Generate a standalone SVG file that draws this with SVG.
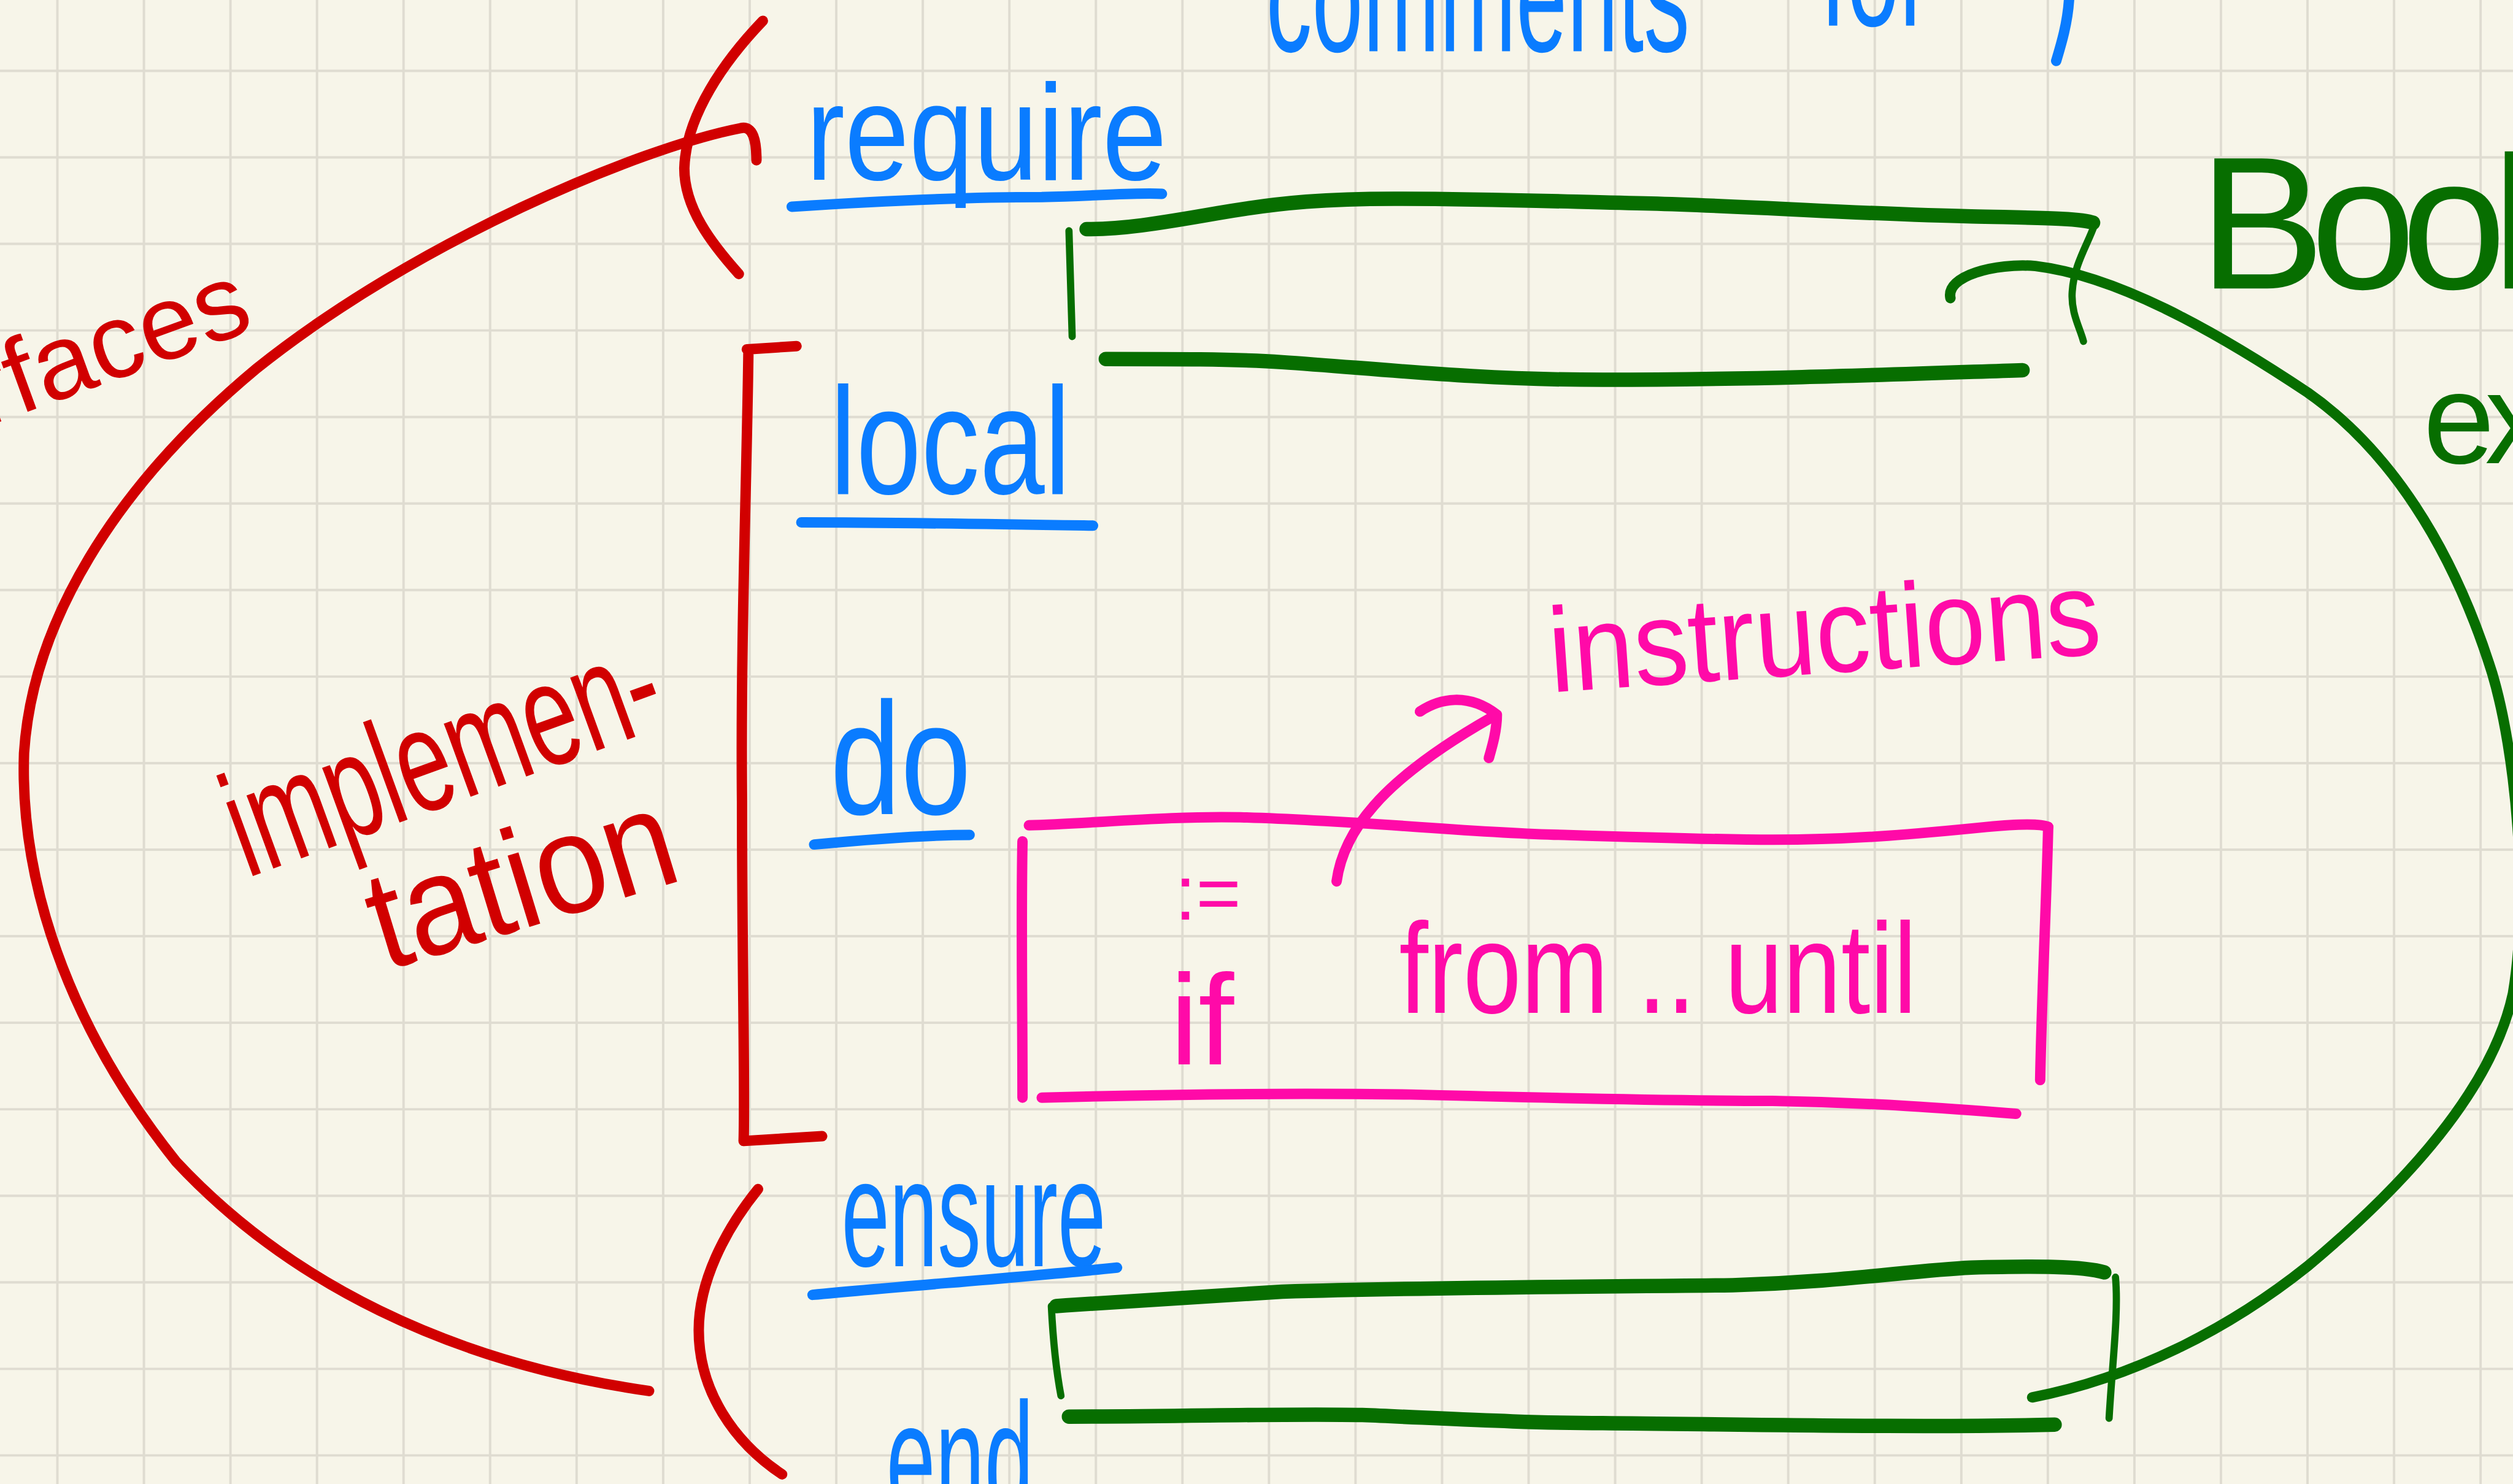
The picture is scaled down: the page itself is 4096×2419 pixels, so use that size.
<svg xmlns="http://www.w3.org/2000/svg" width="4096" height="2419" viewBox="0 0 4096 2419">
  <style>
    .paper { fill: #f7f5e9; }
    .grid { fill: none; stroke: #dfdcd1; stroke-width: 1.5; }
    .pen { fill: none; stroke-linecap: round; stroke-linejoin: round; }
    .red { stroke: #d10000; }
    .blue { stroke: #0a7cff; }
    .green { stroke: #076e00; }
    .pink { stroke: #ff0aa8; }
    .thin { stroke-width: 4.5; }
    .mid { stroke-width: 6.5; }
    .thick { stroke-width: 9; }
    .hand { font-family: "Liberation Sans", Arial, sans-serif; }
    .t-red { fill: #d10000; }
    .t-blue { fill: #0a7cff; }
    .t-green { fill: #076e00; }
    .t-pink { fill: #ff0aa8; }
  </style>

  <rect class="paper" x="0" y="0" width="4096" height="2419"/>

  <!-- everything below is laid out on a 1568 x 926 sheet and scaled up -->
  <g transform="scale(2.6122)">

    <!-- squared notebook paper -->
    <path class="grid" d="M35.8 0V926M89.8 0V926M143.8 0V926M197.8 0V926M251.8 0V926M305.8 0V926M359.8 0V926M413.8 0V926M467.8 0V926M521.8 0V926M575.8 0V926M629.8 0V926M683.8 0V926M737.8 0V926M791.8 0V926M845.8 0V926M899.8 0V926M953.8 0V926M1007.8 0V926M1061.8 0V926M1115.8 0V926M1169.8 0V926M1223.8 0V926M1277.8 0V926M1331.8 0V926M1385.8 0V926M1439.8 0V926M1493.8 0V926M1547.8 0V926
      M0 44.2H1568M0 98.2H1568M0 152.2H1568M0 206.2H1568M0 260.2H1568M0 314.2H1568M0 368.2H1568M0 422.2H1568M0 476.2H1568M0 530.2H1568M0 584.2H1568M0 638.2H1568M0 692.2H1568M0 746.2H1568M0 800.2H1568M0 854.2H1568M0 908.2H1568"/>

    <!-- heading, cut by the top edge; tall narrow handwriting -->
    <g id="heading">
      <text class="hand t-blue" font-size="100" transform="translate(790,32) scale(0.573,1)">comments</text>
      <text class="hand t-blue" font-size="100" transform="translate(1136,16) scale(0.59,1)">for</text>
      <path class="pen blue mid" d="M1291,0 C1290,15 1286,28 1283,38"/>
    </g>

    <!-- routine keywords -->
    <g id="kw-require">
      <text class="hand t-blue" x="503" y="112" font-size="85" textLength="225" lengthAdjust="spacingAndGlyphs">require</text>
      <path class="pen blue mid" d="M494,129 C540,126 600,123 650,123 C690,122 712,120 725,121"/>
    </g>
    <g id="kw-local">
      <text class="hand t-blue" x="518" y="308" font-size="95" textLength="150" lengthAdjust="spacingAndGlyphs">local</text>
      <path class="pen blue mid" d="M500,326 C560,326 620,327 682,328"/>
    </g>
    <g id="kw-do">
      <text class="hand t-blue" x="518" y="508" font-size="100" textLength="88" lengthAdjust="spacingAndGlyphs">do</text>
      <path class="pen blue mid" d="M508,527 C540,524 575,521 605,521"/>
    </g>
    <g id="kw-ensure">
      <text class="hand t-blue" x="525" y="790" font-size="95" textLength="165" lengthAdjust="spacingAndGlyphs">ensure</text>
      <path class="pen blue mid" d="M507,808 C570,802 640,797 697,791"/>
    </g>
    <g id="kw-end">
      <text class="hand t-blue" x="553" y="945" font-size="100" textLength="92" lengthAdjust="spacingAndGlyphs">end</text>
    </g>

    <!-- red side labels -->
    <g id="label-interfaces">
      <text class="hand t-red" x="160" y="205" font-size="66" text-anchor="end" transform="rotate(-20 160 205)">interfaces</text>
    </g>
    <g id="label-implementation">
      <text class="hand t-red" x="154" y="548" font-size="92" textLength="282" lengthAdjust="spacingAndGlyphs" transform="rotate(-20 154 548)">implemen-</text>
      <text class="hand t-red" x="240" y="606" font-size="88" textLength="196" lengthAdjust="spacingAndGlyphs" transform="rotate(-17 240 606)">tation</text>
    </g>

    <!-- precondition slot -->
    <g id="box-require">
      <path class="pen green thick" d="M678,143 C700,143 720,140 760,133 C800,126 830,124 870,124 C930,124 980,126 1030,127 C1100,129 1170,134 1230,135 C1270,136 1298,136 1306,139"/>
      <path class="pen green thin" d="M667,144 L669,210"/>
      <path class="pen green thin" d="M1307,140 C1303,152 1294,165 1293,182 C1292,195 1298,205 1300,213"/>
      <path class="pen green thick" d="M690,224 C730,224 770,224 800,226 C860,230 920,237 1000,237 C1100,237 1200,233 1262,231"/>
    </g>

    <!-- postcondition slot -->
    <g id="box-ensure">
      <path class="pen green thick" d="M659,815 C700,812 740,810 800,806 C900,803 1000,803 1081,802 C1150,800 1190,793 1230,791 C1270,790 1300,790 1313,794"/>
      <path class="pen green thin" d="M656,815 C657,835 659,855 662,871"/>
      <path class="pen green thin" d="M1320,797 C1322,820 1318,850 1316,885"/>
      <path class="pen green thick" d="M667,884 C740,884 800,882 850,883 C900,885 950,888 1000,888 C1100,889 1200,891 1282,889"/>
    </g>

    <!-- routine body -->
    <g id="box-body">
      <path class="pen pink mid" d="M642,515 C680,514 730,509 774,510 C850,512 920,520 976,521 C1040,523 1080,524 1106,524 C1160,524 1200,520 1240,516 C1260,514 1274,514 1278,516"/>
      <path class="pen pink mid" d="M1278,516 C1277,560 1274,620 1273,674"/>
      <path class="pen pink mid" d="M638,525 C637,570 638,630 638,685"/>
      <path class="pen pink mid" d="M650,685 C720,683 800,682 880,683 C960,685 1050,687 1106,687 C1170,688 1220,692 1258,695"/>
      <text class="hand t-pink" x="733" y="574" font-size="48">:=</text>
      <text class="hand t-pink" x="730" y="664" font-size="80">if</text>
      <text class="hand t-pink" x="873" y="632" font-size="80" textLength="323" lengthAdjust="spacingAndGlyphs">from .. until</text>
    </g>

    <g id="label-instructions">
      <text class="hand t-pink" x="968" y="432" font-size="75" textLength="345" lengthAdjust="spacingAndGlyphs" transform="rotate(-4 968 432)">instructions</text>
    </g>

    <g id="label-boolean">
      <text class="hand t-green" x="1372" y="180" font-size="118" letter-spacing="-9">Boolean</text>
      <text class="hand t-green" x="1512" y="289" font-size="80" letter-spacing="-6">expressions</text>
    </g>

    <!-- braces, brackets and arrows -->
    <g id="connectors">
      <!-- red: interface arc and its two end brackets -->
      <path class="pen red mid" d="M472,100 C472,88 470,78 462,80 C400,92 260,150 160,230 C70,305 20,390 15,470 C12,560 50,650 110,725 C180,800 280,850 405,868"/>
      <path class="pen red mid" d="M476,13 C452,38 428,72 427,105 C427,130 444,152 461,171"/>
      <path class="pen red mid" d="M473,742 C452,768 436,800 436,830 C436,868 458,900 488,920"/>
      <!-- red: implementation bracket -->
      <path class="pen red mid" d="M497,216 L466,218 M467,218 C466,300 462,400 463,500 C463,600 465,680 464,712 L513,709"/>
      <!-- green: both assertion slots tied to the Boolean label -->
      <path class="pen green mid" d="M1217,186 C1214,172 1245,164 1270,166 C1320,172 1380,205 1440,245 C1490,280 1530,340 1555,420 C1570,470 1578,560 1568,620 C1555,680 1500,740 1440,790 C1390,830 1330,860 1268,872"/>
      <!-- pink: body points at instructions -->
      <path class="pen pink mid" d="M834,550 C838,520 860,488 930,448"/>
      <path class="pen pink mid" d="M886,444 C898,436 916,432 934,446 C934,456 931,466 929,473"/>
    </g>
  </g>
</svg>
